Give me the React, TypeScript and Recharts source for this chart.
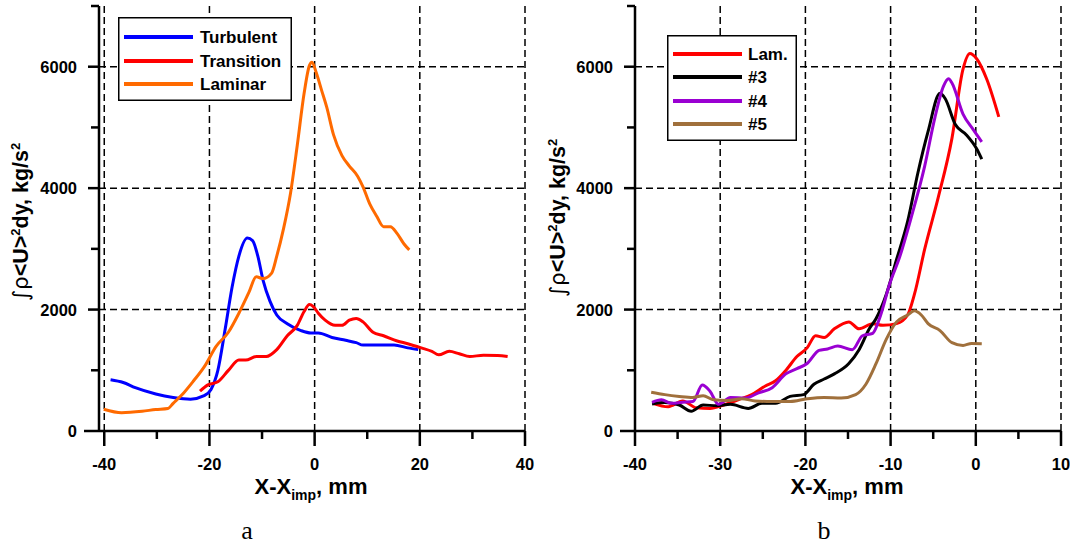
import React from 'react';
import { LineChart, Line, XAxis, YAxis, ReferenceLine, Legend } from 'recharts';

const FONT = '"Liberation Sans", Arial, Helvetica, sans-serif';

// ---------- Panel (a) data ----------
const turbulent: [number, number][] = [
  [-38.8, 844], [-36.4, 799], [-34.1, 713], [-30.2, 610], [-26.9, 553], [-23.6, 525],
  [-21.0, 582], [-19.7, 685], [-18.4, 998], [-17.0, 1683], [-15.7, 2367], [-14.4, 2881],
  [-12.8, 3177], [-11.8, 3137], [-10.8, 2881], [-9.8, 2481], [-8.5, 2139], [-7.2, 1911],
  [-5.2, 1768], [-2.6, 1654], [-0.7, 1614], [0.7, 1614], [3.3, 1540], [5.9, 1494],
  [7.9, 1455], [9.2, 1415], [12.5, 1415], [15.1, 1415], [17.7, 1369], [19.7, 1340],
];
const transition: [number, number][] = [
  [-21.8, 656], [-20.3, 759], [-18.4, 810], [-16.4, 998], [-14.4, 1169], [-13.1, 1169],
  [-11.1, 1226], [-9.2, 1226], [-7.2, 1340], [-5.2, 1569], [-3.3, 1740], [-2.0, 1968],
  [-1.0, 2082], [-0.3, 2054], [0.7, 1940], [2.0, 1825], [3.9, 1740], [5.2, 1740],
  [6.6, 1825], [7.9, 1854], [9.2, 1797], [11.1, 1626], [13.1, 1569], [15.7, 1483],
  [17.7, 1438], [20.3, 1369], [22.3, 1312], [23.6, 1255], [25.6, 1312], [27.5, 1272],
  [29.5, 1226], [32.1, 1249], [34.8, 1244], [36.7, 1226],
];
const laminar: [number, number][] = [
  [-40.1, 359], [-36.7, 302], [-32.8, 325], [-30.2, 354], [-27.9, 371], [-26.9, 456],
  [-24.9, 627], [-23.0, 827], [-21.0, 1055], [-18.7, 1398], [-16.4, 1626], [-14.4, 1940],
  [-12.5, 2282], [-11.1, 2539], [-9.8, 2510], [-8.2, 2596], [-7.2, 2881], [-5.9, 3337],
  [-4.6, 3908], [-3.3, 4706], [-2.0, 5562], [-1.0, 6018], [-0.5, 6075], [0.3, 5904],
  [1.3, 5619], [2.3, 5334], [3.6, 4877], [5.2, 4535], [6.6, 4364], [8.2, 4193],
  [9.2, 4022], [10.5, 3736], [11.8, 3537], [13.1, 3366], [14.4, 3366], [15.7, 3252],
  [17.0, 3080], [18.0, 2983],
];

// ---------- Panel (b) data ----------
const lam: [number, number][] = [
  [-37.9, 456], [-36.1, 399], [-34.4, 496], [-32.8, 382], [-31.2, 371], [-29.6, 428],
  [-27.9, 513], [-26.3, 599], [-24.7, 742], [-23.5, 827], [-22.3, 998], [-21.0, 1226],
  [-19.8, 1369], [-18.8, 1569], [-17.8, 1540], [-16.6, 1683], [-14.9, 1797], [-13.7, 1683],
  [-12.1, 1768], [-10.9, 1740], [-9.3, 1768], [-8.0, 1911], [-7.2, 2253], [-6.0, 2995],
  [-4.4, 3851], [-2.8, 4820], [-1.5, 5961], [-0.7, 6218], [0.1, 6132], [1.3, 5790],
  [2.7, 5174],
];
const run3: [number, number][] = [
  [-38.0, 445], [-36.5, 468], [-34.8, 428], [-33.4, 325], [-32.0, 428], [-30.4, 416],
  [-28.8, 439], [-26.7, 371], [-25.1, 456], [-23.5, 456], [-21.8, 570], [-20.2, 599],
  [-19.0, 770], [-17.8, 856], [-16.6, 941], [-14.9, 1112], [-13.7, 1340], [-12.5, 1683],
  [-11.7, 1854], [-10.5, 2253], [-9.3, 2824], [-8.0, 3451], [-6.8, 4250], [-5.6, 4934],
  [-4.2, 5562], [-3.6, 5476], [-2.4, 5048], [-1.1, 4877], [0.1, 4649], [0.7, 4478],
];
const run4: [number, number][] = [
  [-38.0, 473], [-36.9, 513], [-35.7, 456], [-34.4, 473], [-33.2, 485], [-32.1, 759],
  [-31.2, 656], [-30.2, 439], [-28.8, 553], [-27.1, 542], [-25.5, 627], [-23.9, 713],
  [-22.3, 941], [-21.0, 1027], [-19.8, 1112], [-18.4, 1329], [-17.4, 1352], [-16.2, 1398],
  [-14.5, 1340], [-13.3, 1569], [-12.1, 1609], [-11.3, 1854], [-10.1, 2424], [-8.9, 2881],
  [-7.6, 3508], [-6.0, 4364], [-4.8, 5163], [-3.8, 5676], [-3.2, 5801], [-2.8, 5733],
  [-1.5, 5220], [-0.3, 4963], [0.7, 4763],
];
const run5: [number, number][] = [
  [-38.1, 639], [-36.5, 599], [-34.8, 570], [-33.2, 553], [-32.0, 582], [-30.8, 513],
  [-29.2, 502], [-27.5, 530], [-25.9, 496], [-23.9, 485], [-21.8, 485], [-19.8, 530],
  [-17.8, 553], [-15.8, 542], [-14.1, 599], [-12.9, 770], [-11.7, 1112], [-10.5, 1512],
  [-9.3, 1797], [-8.0, 1911], [-7.2, 1980], [-6.4, 1911], [-5.6, 1768], [-4.2, 1654],
  [-2.8, 1455], [-1.5, 1409], [-0.5, 1443], [0.7, 1438],
];

// ---------- ticks ----------
const yTicks = [0, 1000, 2000, 3000, 4000, 5000, 6000, 7000];
const yTickLabels = [0, 2000, 4000, 6000];
const yGrid = [2000, 4000, 6000];
const aXTicks = [-40, -30, -20, -10, 0, 10, 20, 30, 40];
const aXTickLabels = [-40, -20, 0, 20, 40];
const aXGrid = [-40, -20, 0, 20, 40];
const bXTicks = [-40, -35, -30, -25, -20, -15, -10, -5, 0, 5, 10];
const bXTickLabels = [-40, -30, -20, -10, 0, 10];
const bXGrid = [-30, -20, -10, 0, 10];

const aSeries = [
  { name: 'Turbulent', color: '#0000ff', data: turbulent },
  { name: 'Transition', color: '#ff0000', data: transition },
  { name: 'Laminar', color: '#ff6a00', data: laminar },
];
const bSeries = [
  { name: 'Lam.', color: '#ff0000', data: lam },
  { name: '#3', color: '#000000', data: run3 },
  { name: '#4', color: '#9a00d2', data: run4 },
  { name: '#5', color: '#a0703c', data: run5 },
];

const toPts = (a: [number, number][]) => a.map(([x, y]) => ({ x, y }));

const makeXTick = (labels: number[]) => (props: any) => {
  const { x, y, payload } = props;
  const v = payload.value;
  const major = labels.includes(v);
  return (
    <g>
      <line x1={x} x2={x} y1={y} y2={y + (major ? 15 : 8)} stroke="#000" strokeWidth={2.5} />
      {major && (
        <text x={x} y={y + 39} textAnchor="middle" fontFamily={FONT} fontWeight="bold" fontSize={16.5} fill="#000">
          {v}
        </text>
      )}
    </g>
  );
};

const makeYTick = (labels: number[]) => (props: any) => {
  const { x, y, payload } = props;
  const v = payload.value;
  const major = labels.includes(v);
  const len = v === 0 ? 15 : major ? 11 : 8;
  return (
    <g>
      <line x1={x - len} x2={x} y1={y} y2={y} stroke="#000" strokeWidth={2.5} />
      {major && (
        <text x={x - 22} y={y} dy="0.36em" textAnchor="end" fontFamily={FONT} fontWeight="bold" fontSize={16.5} fill="#000">
          {v}
        </text>
      )}
    </g>
  );
};

const YLab = ({ cx, cy }: { cx: number; cy: number }) => (
  <text
    transform={`translate(${cx},${cy}) rotate(-90)`}
    textAnchor="middle"
    dy="0.36em"
    fontFamily={FONT}
    fontWeight="bold"
    fontSize={21.5}
    fill="#000"
  >
    <tspan fontWeight="normal" fontFamily='"DejaVu Sans", sans-serif'>∫ρ</tspan>
    <tspan>&lt;U&gt;</tspan>
    <tspan dy={-8} fontSize={13}>2</tspan>
    <tspan dy={8}>dy, kg/s</tspan>
    <tspan dy={-8} fontSize={13}>2</tspan>
  </text>
);

const XLab = ({ cx, cap, capX }: { cx: number; cap: string; capX: number }) => (
  <g>
    <text x={cx} y={494} textAnchor="middle" fontFamily={FONT} fontWeight="bold" fontSize={22} fill="#000">
      X-X
      <tspan dy={6} fontSize={14}>imp</tspan>
      <tspan dy={-6}>, mm</tspan>
    </text>
    <text x={capX} y={539} textAnchor="middle" fontFamily='"Liberation Serif", "Times New Roman", serif' fontSize={26} fill="#000">
      {cap}
    </text>
  </g>
);

const LegendBox = ({
  items,
  width,
  height,
  rows,
  textX,
}: {
  items: { name: string; color: string }[];
  width: number;
  height: number;
  rows: number[];
  textX: number;
}) => (
  <svg width={width} height={height} style={{ display: 'block' }}>
    <rect x={0.75} y={0.75} width={width - 1.5} height={height - 1.5} fill="#fff" stroke="#000" strokeWidth={1.5} />
    {items.map((it, i) => (
      <g key={it.name}>
        <line x1={6} x2={75} y1={rows[i]} y2={rows[i]} stroke={it.color} strokeWidth={4} />
        <text x={textX} y={rows[i]} dy="0.36em" fontFamily={FONT} fontWeight="bold" fontSize={17} fill="#000">
          {it.name}
        </text>
      </g>
    ))}
  </svg>
);

const gridStyle = { stroke: '#000', strokeWidth: 1.5, strokeDasharray: '7 4' };

export default function App() {
  return (
    <div style={{ position: 'absolute', left: 0, top: 0, width: 1070, height: 544, background: '#fff', overflow: 'hidden' }}>
      <div style={{ position: 'absolute', left: 0, top: 0 }}>
        <LineChart width={540} height={544} margin={{ top: 6, right: 15, left: 0, bottom: 83 }}>
          <XAxis
            type="number"
            dataKey="x"
            domain={[-41, 40]}
            allowDataOverflow
            ticks={aXTicks}
            interval={0}
            tickLine={false}
            tickSize={0}
            tickMargin={0}
            height={30}
            axisLine={{ stroke: '#000', strokeWidth: 2.5 }}
            tick={makeXTick(aXTickLabels)}
            label={<XLab cx={311} cap="a" capX={247} />}
          />
          <YAxis
            type="number"
            domain={[0, 7000]}
            allowDataOverflow
            ticks={yTicks}
            interval={0}
            tickLine={false}
            tickSize={0}
            tickMargin={0}
            width={99}
            axisLine={{ stroke: '#000', strokeWidth: 2.5 }}
            tick={makeYTick(yTickLabels)}
            label={<YLab cx={20} cy={222} />}
          />
          {aXGrid.map((v) => (
            <ReferenceLine key={'ax' + v} x={v} {...gridStyle} />
          ))}
          {yGrid.map((v) => (
            <ReferenceLine key={'ay' + v} y={v} {...gridStyle} />
          ))}
          {aSeries.map((s) => (
            <Line
              key={s.name}
              name={s.name}
              data={toPts(s.data)}
              dataKey="y"
              type="monotone"
              stroke={s.color}
              strokeWidth={3}
              dot={false}
              isAnimationActive={false}
            />
          ))}
          <Legend
            layout="vertical"
            align="center"
            verticalAlign="middle"
            wrapperStyle={{ left: 118, top: 17, width: 174, height: 84 }}
            content={() => <LegendBox items={aSeries} width={174} height={84} rows={[20, 44, 67]} textX={82} />}
          />
        </LineChart>
      </div>
      <div style={{ position: 'absolute', left: 530, top: 0 }}>
        <LineChart width={540} height={544} margin={{ top: 6, right: 9, left: 0, bottom: 83 }}>
          <XAxis
            type="number"
            dataKey="x"
            domain={[-40, 10]}
            allowDataOverflow
            ticks={bXTicks}
            interval={0}
            tickLine={false}
            tickSize={0}
            tickMargin={0}
            height={30}
            axisLine={{ stroke: '#000', strokeWidth: 2.5 }}
            tick={makeXTick(bXTickLabels)}
            label={<XLab cx={317} cap="b" capX={294} />}
          />
          <YAxis
            type="number"
            domain={[0, 7000]}
            allowDataOverflow
            ticks={yTicks}
            interval={0}
            tickLine={false}
            tickSize={0}
            tickMargin={0}
            width={105}
            axisLine={{ stroke: '#000', strokeWidth: 2.5 }}
            tick={makeYTick(yTickLabels)}
            label={<YLab cx={27} cy={218} />}
          />
          {bXGrid.map((v) => (
            <ReferenceLine key={'bx' + v} x={v} {...gridStyle} />
          ))}
          {yGrid.map((v) => (
            <ReferenceLine key={'by' + v} y={v} {...gridStyle} />
          ))}
          {bSeries.map((s) => (
            <Line
              key={s.name}
              name={s.name}
              data={toPts(s.data)}
              dataKey="y"
              type="monotone"
              stroke={s.color}
              strokeWidth={3}
              dot={false}
              isAnimationActive={false}
            />
          ))}
          <Legend
            layout="vertical"
            align="center"
            verticalAlign="middle"
            wrapperStyle={{ left: 137, top: 35, width: 130, height: 106 }}
            content={() => <LegendBox items={bSeries} width={130} height={106} rows={[19, 42, 66, 89]} textX={81} />}
          />
        </LineChart>
      </div>
    </div>
  );
}
